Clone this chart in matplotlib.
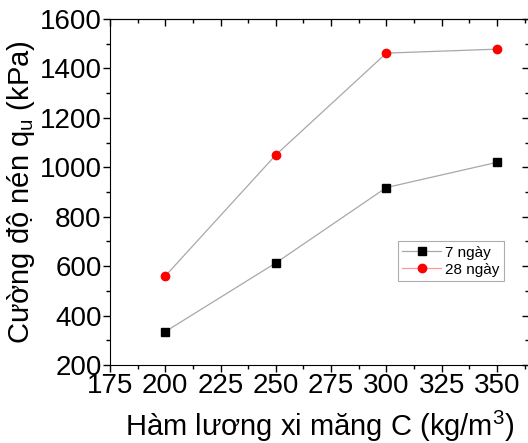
import matplotlib
matplotlib.use("Agg")
import matplotlib.pyplot as plt
from matplotlib.ticker import MultipleLocator

plt.rcParams['font.family'] = ['Liberation Sans', 'DejaVu Sans']
plt.rcParams['mathtext.fontset'] = 'custom'
plt.rcParams['mathtext.rm'] = 'Liberation Sans'
plt.rcParams['mathtext.it'] = 'Liberation Sans'

# data
cement = [200, 250, 300, 350]
qu_7 = [335, 613, 918, 1020]
qu_28 = [560, 1050, 1462, 1478]
labels = ["7 ngày", "28 ngày"]

fig = plt.figure(figsize=(5.28, 4.43), dpi=100)
ax = fig.add_axes([110 / 528, 78 / 443, 419 / 528, 346 / 443])

ax.plot(cement, qu_7, color="#a8a8a8", lw=0.9, marker="s", ms=5.5,
        mfc="black", mec="black", label=labels[0])
ax.plot(cement, qu_28, color="#a8a8a8", lw=0.9, marker="o", ms=6,
        mfc="red", mec="red", label=labels[1])

ax.set_xlim(175, 364.5)
ax.set_ylim(200, 1600)
ax.xaxis.set_major_locator(MultipleLocator(25))
ax.xaxis.set_minor_locator(MultipleLocator(12.5))
ax.yaxis.set_major_locator(MultipleLocator(200))
ax.yaxis.set_minor_locator(MultipleLocator(100))

ax.tick_params(which="both", direction="out", labelsize=20, width=1, pad=1)
ax.tick_params(which="major", length=5)
ax.tick_params(which="minor", length=3)

# mirrored ticks on top and right point inward
top = ax.secondary_xaxis("top")
top.xaxis.set_major_locator(MultipleLocator(25))
top.xaxis.set_minor_locator(MultipleLocator(12.5))
top.tick_params(which="both", direction="in", labeltop=False, width=1)
top.tick_params(which="major", length=5)
top.tick_params(which="minor", length=3)
right = ax.secondary_yaxis("right")
right.yaxis.set_major_locator(MultipleLocator(200))
right.yaxis.set_minor_locator(MultipleLocator(100))
right.tick_params(which="both", direction="in", labelright=False, width=1)
right.tick_params(which="major", length=5)
right.tick_params(which="minor", length=3)

ax.set_xlabel("Hàm lương xi măng C (kg/m$^\\mathregular{3}$)", fontsize=21, labelpad=7)
ax.set_ylabel("Cường độ nén q$_\\mathregular{u}$ (kPa)", fontsize=21, labelpad=2)

leg = ax.legend(loc="upper left", bbox_to_anchor=(0.687, 0.358), fontsize=11,
                frameon=True, fancybox=False, borderpad=0.3, handlelength=2.5,
                labelspacing=0.2, borderaxespad=0, handletextpad=0.3)
leg.get_frame().set_edgecolor("#999999")
leg.get_frame().set_linewidth(0.8)
leg.get_lines()[1].set_color("#ff9999")

fig.savefig("out.png", dpi=100)
